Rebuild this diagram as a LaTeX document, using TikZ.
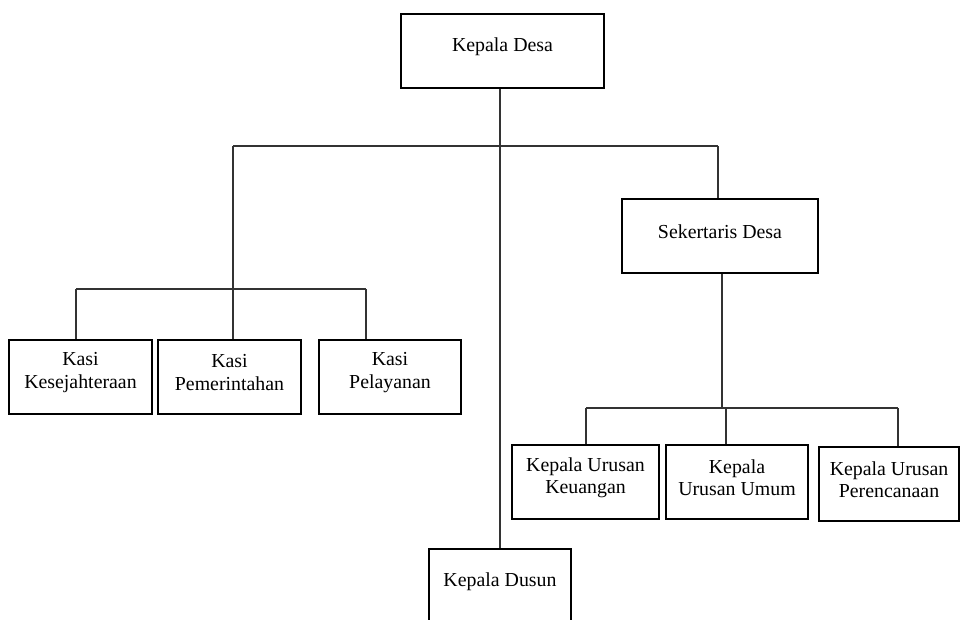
\documentclass[tikz,border=0pt]{standalone}
\usepackage{fontspec}
\setmainfont{Liberation Serif}
\usetikzlibrary{positioning}

\tikzset{
  box/.style={rectangle, draw, line width=1pt, minimum height=1.48cm, inner sep=0pt},
  lbl/.style={align=center, yshift=0.09cm, font=\fontsize{11.3}{12.8}\selectfont},
  link/.style={line width=0.6pt, draw=black!80}
}

\begin{document}
\begin{tikzpicture}[x=0.02cm, y=-0.02cm]
	\useasboundingbox (0,0) rectangle (960,619);
	\clip (0,0) rectangle (960,619);
	% boxes
	\node (kdesa) at (502.5,51) [box, minimum width=4.06cm, label={[lbl]center:Kepala Desa}] {};
	\node (sekdes) at (720,236) [box, minimum width=3.92cm, label={[lbl]center:Sekertaris Desa}] {};
	\node (kasi1) at (80.5,377) [box, minimum width=2.86cm, label={[lbl]center:Kasi\\Kesejahteraan}] {};
	\node (kasi2) at (229.5,377) [box, minimum width=2.86cm, label={[lbl]center:Kasi\\Pemerintahan}] {};
	\node (kasi3) at (390,377) [box, minimum width=2.84cm, label={[lbl]center:Kasi\\Pelayanan}] {};
	\node (kuk) at (585.5,482) [box, minimum width=2.94cm, label={[lbl]center:Kepala Urusan\\Keuangan}] {};
	\node (kuu) at (737,482) [box, minimum width=2.84cm, label={[lbl]center:Kepala\\Urusan Umum}] {};
	\node (kup) at (889,484) [box, minimum width=2.8cm, label={[lbl]center:Kepala Urusan\\Perencanaan}] {};
	\node (kdusun) at (500,586) [box, minimum width=2.84cm, label={[lbl]center:Kepala Dusun}] {};
	% bus points
	\coordinate (bus1l) at (233,146);
	\coordinate (bus1r) at (718,146);
	\coordinate (bus2l) at (76,289);
	\coordinate (bus2m) at (233,289);
	\coordinate (bus2r) at (366,289);
	\coordinate (bus3l) at (586,408);
	\coordinate (bus3m) at (722,408);
	\coordinate (bus3k) at (726,408);
	\coordinate (bus3r) at (898,408);
	% lines
	\draw[link] (kdesa.south -| kdusun.north) -- (kdusun.north);
	\draw[link] (bus1l) -- (bus1r);
	\draw[link] (bus1r) -- (bus1r |- sekdes.north);
	\draw[link] (bus1l) -- (bus2m);
	\draw[link] (bus2l) -- (bus2r);
	\draw[link] (bus2l) -- (bus2l |- kasi1.north);
	\draw[link] (bus2m) -- (bus2m |- kasi2.north);
	\draw[link] (bus2r) -- (bus2r |- kasi3.north);
	\draw[link] (bus3m |- sekdes.south) -- (bus3m);
	\draw[link] (bus3l) -- (bus3r);
	\draw[link] (bus3l) -- (bus3l |- kuk.north);
	\draw[link] (bus3k) -- (bus3k |- kuu.north);
	\draw[link] (bus3r) -- (bus3r |- kup.north);
\end{tikzpicture}
\end{document}
